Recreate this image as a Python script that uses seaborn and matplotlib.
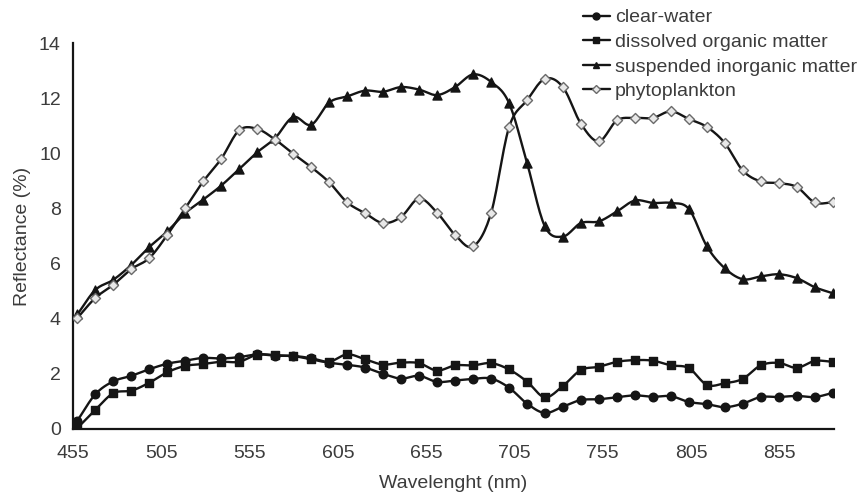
import numpy as np
import pandas as pd
import matplotlib
matplotlib.use("Agg")
import matplotlib.pyplot as plt
import seaborn as sns
from matplotlib.lines import Line2D

# ---------------- data ----------------
wavelength = [457.3, 467.5, 477.7, 487.9, 498.1, 508.3, 518.4, 528.6, 538.8, 549.0,
              559.2, 569.4, 579.6, 589.8, 600.0, 610.2, 620.3, 630.5, 640.7, 650.9,
              661.1, 671.3, 681.5, 691.7, 701.9, 712.1, 722.2, 732.4, 742.6, 752.8,
              763.0, 773.2, 783.4, 793.6, 803.8, 814.0, 824.1, 834.3, 844.5, 854.7,
              864.9, 875.1, 885.3]

clear_water = [0.29, 1.25, 1.72, 1.92, 2.16, 2.36, 2.47, 2.57, 2.55, 2.60,
               2.70, 2.65, 2.64, 2.56, 2.40, 2.32, 2.22, 1.99, 1.82, 1.92,
               1.70, 1.75, 1.81, 1.82, 1.49, 0.91, 0.57, 0.80, 1.04, 1.07,
               1.14, 1.21, 1.16, 1.18, 0.97, 0.89, 0.78, 0.91, 1.15, 1.15,
               1.19, 1.15, 1.30]

dissolved_organic = [0.02, 0.68, 1.29, 1.38, 1.67, 2.05, 2.28, 2.35, 2.43, 2.43,
                     2.69, 2.67, 2.64, 2.52, 2.43, 2.70, 2.52, 2.33, 2.40, 2.38,
                     2.11, 2.30, 2.30, 2.38, 2.15, 1.71, 1.14, 1.55, 2.13, 2.25,
                     2.43, 2.49, 2.47, 2.30, 2.20, 1.59, 1.65, 1.81, 2.30, 2.39,
                     2.21, 2.46, 2.43]

suspended_inorganic = [4.15, 5.04, 5.41, 5.95, 6.60, 7.17, 7.83, 8.32, 8.83, 9.43,
                       10.04, 10.56, 11.32, 11.04, 11.85, 12.07, 12.28, 12.24, 12.41, 12.32,
                       12.12, 12.41, 12.87, 12.60, 11.83, 9.65, 7.35, 6.98, 7.47, 7.53,
                       7.89, 8.29, 8.20, 8.20, 7.98, 6.62, 5.83, 5.43, 5.53, 5.61,
                       5.47, 5.14, 4.92]

phytoplankton = [4.02, 4.75, 5.23, 5.80, 6.20, 7.04, 8.01, 8.98, 9.80, 10.84,
                 10.89, 10.50, 9.99, 9.50, 8.95, 8.22, 7.83, 7.47, 7.69, 8.36,
                 7.85, 7.04, 6.62, 7.83, 10.95, 11.93, 12.71, 12.41, 11.08, 10.44,
                 11.20, 11.29, 11.29, 11.53, 11.25, 10.96, 10.38, 9.38, 8.98, 8.92,
                 8.78, 8.22, 8.22]

series_names = ["clear-water", "dissolved organic matter",
                "suspended inorganic matter", "phytoplankton"]
x_ticks = [455, 505, 555, 605, 655, 705, 755, 805, 855]
y_ticks = [0, 2, 4, 6, 8, 10, 12, 14]

# ---------------- styling ----------------
sns.set_theme(style="white")
plt.rcParams["font.family"] = ["Liberation Sans", "DejaVu Sans"]
TEXT = "#3c3c3c"
LINE = "#151515"
FS = 14

df = pd.DataFrame({
    "Wavelength": wavelength * 4,
    "Reflectance": clear_water + dissolved_organic + suspended_inorganic + phytoplankton,
    "series": sum([[n] * len(wavelength) for n in series_names], []),
})

styles = {
    "clear-water": dict(marker="o", s=38, fc=LINE, ec=LINE),
    "dissolved organic matter": dict(marker="s", s=36, fc=LINE, ec=LINE),
    "suspended inorganic matter": dict(marker="^", s=42, fc=LINE, ec=LINE),
    "phytoplankton": dict(marker="D", s=26, fc="#e8e8e8", ec="#6a6a6a"),
}


def smooth_path(x, y, n=14):
    """Catmull-Rom curve through the points (like Excel's smoothed line)."""
    x = np.asarray(x, float)
    y = np.asarray(y, float)
    px = np.concatenate([[2 * x[0] - x[1]], x, [2 * x[-1] - x[-2]]])
    py = np.concatenate([[2 * y[0] - y[1]], y, [2 * y[-1] - y[-2]]])
    t = np.linspace(0, 1, n, endpoint=False)
    xs, ys = [], []
    for i in range(1, len(px) - 2):
        for p, out in ((px, xs), (py, ys)):
            p0, p1, p2, p3 = p[i - 1], p[i], p[i + 1], p[i + 2]
            out.append(0.5 * (2 * p1 + (-p0 + p2) * t
                              + (2 * p0 - 5 * p1 + 4 * p2 - p3) * t ** 2
                              + (-p0 + 3 * p1 - 3 * p2 + p3) * t ** 3))
    xs.append([x[-1]])
    ys.append([y[-1]])
    return np.concatenate(xs), np.concatenate(ys)


fig = plt.figure(figsize=(8.58, 4.95), dpi=100)
ax = fig.add_axes([0.0854, 0.134, 0.8866, 0.7785])

for name in series_names:
    sub = df[df["series"] == name]
    sx, sy = smooth_path(sub["Wavelength"], sub["Reflectance"])
    ax.plot(sx, sy, color=LINE, lw=1.7, zorder=2)
    st = styles[name]
    sns.scatterplot(data=sub, x="Wavelength", y="Reflectance", ax=ax,
                    marker=st["marker"], s=st["s"], color=st["fc"],
                    edgecolor=st["ec"], linewidth=1.0, zorder=3, legend=False)

ax.set_xlim(455, 886)
ax.set_ylim(0, 14)
ax.set_xticks(x_ticks)
ax.set_yticks(y_ticks)
ax.set_xticklabels([str(v) for v in x_ticks])
ax.set_yticklabels([str(v) for v in y_ticks])

for side in ("top", "right"):
    ax.spines[side].set_visible(False)
for side in ("left", "bottom"):
    ax.spines[side].set_color(LINE)
    ax.spines[side].set_linewidth(1.6)

ax.tick_params(axis="both", direction="out", length=5, width=1.3, color=LINE,
               labelsize=FS, labelcolor=TEXT, pad=4)
ax.tick_params(axis="x", pad=7)
ax.set_xlabel("Wavelenght (nm)", fontsize=FS, color=TEXT, labelpad=9)
ax.set_ylabel("Reflectance (%)", fontsize=FS, color=TEXT, labelpad=6)

handles = []
for name in series_names:
    st = styles[name]
    handles.append(Line2D([0], [0], color=LINE, lw=1.7, marker=st["marker"],
                          markersize=5 if st["marker"] != "D" else 4.5,
                          markerfacecolor=st["fc"], markeredgecolor=st["ec"]))
leg = fig.legend(handles, series_names, loc="upper left",
                 bbox_to_anchor=(0.670, 0.998), frameon=False, fontsize=FS,
                 handlelength=1.4, handletextpad=0.26, labelspacing=0.36,
                 borderaxespad=0.0)
for t in leg.get_texts():
    t.set_color(TEXT)

fig.savefig("out.png", dpi=100, facecolor="white")
